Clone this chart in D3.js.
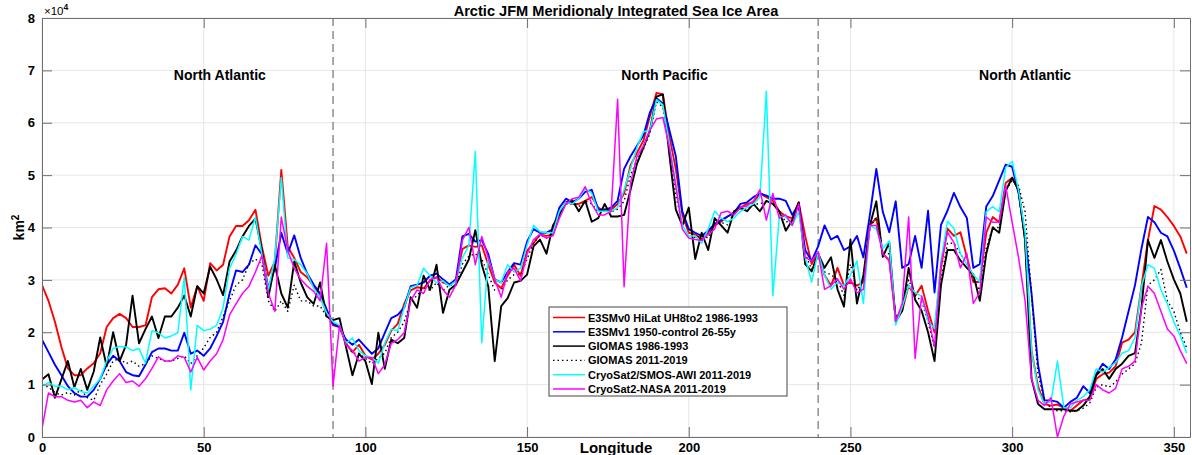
<!DOCTYPE html>
<html>
<head>
<meta charset="utf-8">
<script src="https://cdn.jsdelivr.net/npm/d3@7"></script>
<style>
  body { margin: 0; background: #fff; }
  text { font-family: "Liberation Sans", Arial, Helvetica, sans-serif; font-weight: bold; fill: #000; }
</style>
</head>
<body>
<div id="chart"></div>
<script>
// longitude grid (degrees), values in units of 1e4 km^2
const lon = d3.range(0, 356, 2);

const e3smv0 = [
  2.9, 2.6, 2.2, 1.72, 1.31, 1.18, 1.18, 1.31, 1.41, 1.6,
  2.1, 2.27, 2.35, 2.27, 2.1, 2.1, 2.13, 2.67, 2.82, 2.84,
  2.74, 2.91, 3.22, 2.47, 2.88, 2.6, 3.32, 3.18, 3.29, 3.83,
  4.03, 4.03, 4.14, 4.34, 3.63, 3.08, 3.35, 5.1, 3.63, 3.42,
  3.15, 3.05, 2.88, 2.67, 2.4, 2.13, 2.1, 1.79, 1.62, 1.76,
  1.55, 1.48, 1.59, 1.76, 2.03, 2.16, 2.54, 2.8, 2.86, 2.84,
  2.98, 3.05, 2.95, 2.91, 2.98, 3.59, 3.66, 3.63, 3.66, 3.29,
  2.95, 2.84, 3.08, 3.29, 3.08, 3.56, 3.7, 3.87, 3.84, 3.87,
  4.24, 4.48, 4.45, 4.45, 4.51, 4.58, 4.38, 4.31, 4.34, 4.45,
  4.65, 5.19, 5.43, 5.66, 6.13, 6.57, 6.54, 5.73, 5.12, 4.24,
  3.9, 3.87, 3.77, 3.9, 4.04, 4.11, 4.21, 4.28, 4.38, 4.45,
  4.48, 4.65, 4.58, 4.51, 4.31, 4.21, 4.18, 4.48, 3.84, 3.3,
  3.53, 3.09, 2.89, 3.23, 2.89, 2.96, 2.89, 2.96, 4.04, 4.18,
  3.5, 3.37, 2.28, 2.41, 2.89, 2.69, 2.89, 2.41, 2.0, 3.23,
  3.98, 3.84, 3.91, 3.44, 2.96, 2.96, 3.9, 4.2, 4.1, 4.85,
  4.95, 4.71, 3.76, 1.65, 0.97, 0.63, 0.6, 0.62, 0.56, 0.5,
  0.6, 0.7, 0.73, 1.11, 1.2, 1.23, 1.35, 1.8, 1.86, 2.0,
  2.88, 3.76, 4.41, 4.34, 4.2, 4.03, 3.83, 3.5
];

const e3smv1 = [
  1.86, 1.62, 1.38, 1.18, 0.97, 0.84, 0.77, 0.77, 0.9, 1.11,
  1.38, 1.55, 1.45, 1.24, 1.18, 1.16, 1.38, 1.62, 1.69, 1.69,
  1.65, 1.65, 1.99, 1.59, 1.65, 1.55, 1.69, 1.93, 2.2, 2.74,
  3.18, 3.15, 3.29, 3.66, 3.49, 2.84, 3.22, 3.9, 3.5, 3.85,
  3.42, 3.12, 2.91, 2.74, 2.44, 2.16, 2.1, 1.86, 1.76, 1.86,
  1.72, 1.59, 1.69, 1.99, 2.27, 2.33, 2.47, 2.88, 2.91, 2.95,
  3.08, 3.12, 3.01, 2.91, 3.01, 3.83, 3.88, 3.73, 3.76, 3.49,
  3.01, 2.95, 3.15, 3.32, 3.29, 3.73, 3.97, 3.9, 3.9, 3.97,
  4.38, 4.55, 4.48, 4.55, 4.68, 4.72, 4.34, 4.34, 4.38, 4.51,
  5.12, 5.36, 5.56, 5.76, 6.2, 6.47, 6.37, 5.86, 5.36, 4.31,
  3.97, 3.9, 3.84, 3.94, 4.07, 4.14, 4.21, 4.28, 4.45, 4.48,
  4.58, 4.65, 4.61, 4.55, 4.55, 4.51, 4.24, 4.45, 3.57, 3.36,
  3.64, 4.04, 3.77, 3.84, 3.57, 3.64, 3.84, 3.43, 4.24, 5.12,
  4.3, 3.91, 4.5, 3.23, 3.3, 3.84, 3.23, 4.32, 2.76, 4.05,
  4.32, 4.66, 4.39, 4.18, 3.23, 3.3, 4.4, 4.6, 4.9, 5.2,
  5.16, 4.65, 3.83, 2.74, 1.38, 0.7, 0.7, 0.67, 0.56, 0.67,
  0.75, 0.97, 0.84, 1.2, 1.4, 1.3, 1.48, 1.9, 2.4, 2.9,
  3.6, 4.2, 4.1, 3.9, 3.83, 3.56, 3.22, 2.85
];

const giomas8693 = [
  1.1, 1.2, 0.75, 1.1, 1.45, 0.95, 1.3, 0.9, 1.25, 1.9,
  1.35, 2.0, 1.45, 1.76, 2.7, 1.79, 2.06, 2.3, 1.89, 2.3,
  2.3, 2.47, 2.7, 2.3, 2.88, 2.74, 3.25, 3.01, 2.71, 3.35,
  3.56, 3.83, 4.03, 4.17, 3.56, 2.67, 3.29, 2.74, 2.47, 3.35,
  2.95, 2.67, 2.54, 2.95, 2.3, 2.23, 2.27, 1.72, 1.18, 1.59,
  1.45, 1.01, 1.99, 1.3, 1.86, 1.79, 1.89, 2.67, 2.47, 3.08,
  2.81, 3.29, 2.37, 2.81, 2.91, 3.15, 3.39, 3.95, 3.29, 2.88,
  1.45, 2.5, 2.65, 2.95, 2.98, 3.1, 3.64, 3.77, 3.5, 4.04,
  4.24, 4.48, 4.52, 4.31, 4.51, 4.11, 4.18, 4.45, 4.21, 4.21,
  4.24, 4.72, 5.22, 5.53, 5.86, 6.5, 6.54, 5.39, 4.34, 4.04,
  4.38, 3.4, 3.9, 3.57, 4.18, 4.04, 3.9, 4.31, 4.38, 4.31,
  4.45, 4.31, 4.51, 4.45, 4.31, 3.94, 4.14, 4.48, 3.3, 3.16,
  3.5, 3.23, 3.43, 2.82, 2.49, 3.77, 2.55, 3.09, 4.04, 4.5,
  3.44, 3.71, 2.2, 2.41, 3.23, 2.62, 2.41, 2.0, 1.45, 2.9,
  3.57, 3.57, 3.37, 3.23, 3.1, 2.6, 3.5, 4.0, 3.9, 4.7,
  4.95, 4.71, 3.76, 1.11, 0.63, 0.53, 0.53, 0.53, 0.53, 0.5,
  0.5, 0.6, 0.77, 1.18, 1.3, 1.11, 1.3, 1.4, 1.55, 1.6,
  2.47, 3.76, 3.42, 3.76, 3.35, 3.01, 2.74, 2.2
];

const giomas1119 = [
  1.0, 0.95, 0.85, 0.8, 0.85, 0.8, 0.9, 0.75, 0.7, 1.0,
  1.2, 1.45, 1.5, 1.4, 1.45, 1.35, 1.4, 1.55, 1.5, 1.45,
  1.45, 1.5, 1.55, 1.4, 1.55, 1.7, 1.9, 2.0, 2.3, 2.6,
  2.9, 3.0, 3.3, 3.4, 3.3, 2.6, 2.4, 2.6, 2.4, 2.9,
  2.6, 2.6, 2.5, 2.5, 2.3, 2.2, 2.1, 1.8, 1.6, 1.6,
  1.5, 1.4, 1.5, 1.6, 1.9, 2.0, 2.2, 2.6, 2.7, 2.85,
  2.8, 2.95, 2.8, 2.9, 2.9, 3.3, 3.45, 3.5, 3.4, 3.1,
  2.8, 2.8, 3.0, 3.1, 3.1, 3.4, 3.7, 3.85, 3.8, 3.9,
  4.2, 4.45, 4.45, 4.4, 4.5, 4.45, 4.3, 4.35, 4.3, 4.35,
  4.5, 5.0, 5.3, 5.5, 5.8, 6.4, 6.3, 5.5, 4.6, 4.1,
  4.0, 3.8, 3.85, 3.8, 4.1, 4.1, 4.05, 4.3, 4.35, 4.35,
  4.45, 4.45, 4.5, 4.45, 4.3, 4.1, 4.15, 4.4, 3.5, 3.2,
  3.5, 3.15, 3.1, 3.0, 2.7, 3.3, 2.8, 3.0, 4.0, 4.2,
  3.5, 3.5, 2.3, 2.4, 3.0, 2.7, 2.6, 2.2, 1.7, 3.0,
  3.7, 3.7, 3.5, 3.3, 3.0, 2.8, 3.6, 4.0, 4.0, 4.7,
  4.9, 4.8, 4.3, 2.7, 1.2, 0.7, 0.55, 0.5, 0.5, 0.48,
  0.5, 0.55, 0.65, 0.95, 1.0, 0.95, 1.05, 1.2, 1.3, 1.4,
  1.8, 2.9, 3.0, 3.2, 2.6, 2.4, 2.0, 1.7
];

const cryoAwi = [
  0.97, 1.04, 0.97, 0.97, 0.9, 0.94, 0.87, 0.84, 0.97, 1.11,
  1.45, 1.69, 1.73, 1.72, 1.65, 1.69, 1.41, 2.03, 1.99, 1.89,
  1.93, 1.99, 3.05, 0.9, 2.13, 2.03, 2.06, 2.13, 2.47, 3.22,
  3.49, 3.83, 3.76, 4.2, 3.49, 2.81, 3.42, 4.95, 3.42, 3.39,
  3.29, 3.12, 2.84, 2.67, 2.37, 2.2, 2.13, 1.79, 1.89, 1.65,
  1.55, 1.52, 1.41, 1.79, 2.06, 2.03, 2.47, 2.85, 2.9, 3.22,
  3.08, 2.95, 2.98, 2.88, 2.98, 3.42, 3.66, 5.45, 1.8, 3.42,
  3.01, 2.95, 3.29, 3.15, 3.22, 3.66, 4.04, 3.92, 3.9, 3.9,
  4.31, 4.48, 4.45, 4.55, 4.75, 4.65, 4.31, 4.31, 4.31, 4.38,
  4.72, 5.12, 5.53, 5.83, 5.86, 6.44, 6.34, 5.59, 4.85, 4.04,
  3.84, 3.84, 3.7, 3.97, 4.31, 4.18, 4.11, 4.18, 4.31, 4.38,
  4.45, 4.58, 6.6, 2.7, 4.21, 4.21, 4.04, 4.3, 3.43, 2.96,
  3.53, 3.09, 2.82, 2.96, 2.89, 3.09, 3.36, 2.55, 4.04, 3.97,
  3.6, 3.74, 2.14, 2.48, 2.89, 2.76, 2.69, 2.21, 2.07, 3.37,
  4.12, 3.98, 3.5, 3.3, 3.1, 2.96, 4.3, 4.4, 4.3, 5.15,
  5.26, 4.71, 3.9, 1.65, 0.9, 0.63, 0.67, 1.45, 0.56, 0.56,
  0.7, 0.77, 0.9, 1.3, 1.24, 1.33, 1.42, 1.6, 1.65, 1.9,
  2.88, 3.29, 3.22, 2.81, 2.54, 2.2, 1.93, 1.6
];

const cryoNasa = [
  0.16, 0.84, 0.77, 0.77, 0.7, 0.67, 0.7, 0.56, 0.67, 0.6,
  0.9, 1.07, 1.21, 1.04, 1.07, 0.97, 1.11, 1.31, 1.53, 1.45,
  1.45, 1.55, 1.52, 1.24, 1.52, 1.28, 1.45, 1.59, 1.86, 2.33,
  2.54, 2.74, 2.88, 3.15, 3.46, 2.74, 2.4, 4.2, 3.56, 3.22,
  3.01, 2.88, 2.78, 2.6, 3.7, 0.97, 2.13, 1.76, 1.65, 1.45,
  1.52, 1.52, 1.21, 1.38, 1.79, 1.86, 1.99, 2.6, 2.81, 2.74,
  3.01, 3.05, 2.81, 2.67, 2.91, 3.76, 4.0, 3.29, 3.83, 3.42,
  3.01, 2.67, 3.15, 3.22, 2.98, 3.49, 3.77, 3.87, 3.8, 3.84,
  4.18, 4.45, 4.55, 4.58, 4.78, 4.45, 4.24, 4.24, 4.31, 6.45,
  2.87, 4.85, 5.36, 5.56, 5.86, 6.07, 6.1, 5.53, 4.78, 3.97,
  3.8, 3.77, 3.75, 3.87, 3.97, 4.28, 4.31, 4.24, 4.38, 4.41,
  4.51, 4.72, 4.14, 4.65, 4.18, 4.24, 4.04, 4.45, 3.43, 3.36,
  3.53, 2.82, 2.89, 3.02, 2.82, 3.02, 2.75, 2.82, 4.04, 4.04,
  3.5, 3.37, 2.21, 2.55, 4.2, 1.5, 2.69, 2.3, 1.73, 3.3,
  3.91, 3.71, 3.23, 3.5, 2.55, 2.76, 4.2, 4.1, 4.1, 4.8,
  4.1, 3.42, 2.6, 1.11, 0.7, 0.6, 0.75, 0.0, 0.4, 0.63,
  0.67, 0.7, 0.7, 1.0, 0.9, 0.84, 0.93, 1.3, 1.35, 1.45,
  2.47, 2.88, 2.74, 2.4, 2.06, 1.93, 1.65, 1.4
];

const seriesLabels = [
  "E3SMv0 HiLat UH8to2 1986-1993",
  "E3SMv1 1950-control 26-55y",
  "GIOMAS 1986-1993",
  "GIOMAS 2011-2019",
  "CryoSat2/SMOS-AWI 2011-2019",
  "CryoSat2-NASA 2011-2019"
];
const xTicks = [0, 50, 100, 150, 200, 250, 300, 350];
const yTicks = [0, 1, 2, 3, 4, 5, 6, 7, 8];
const regionNames = ["North Atlantic", "North Pacific", "North Atlantic"];
const regionLon = [55, 192.5, 304];
const dividers = [90, 240];

const W = 1192, H = 455;
const L = 42, R = 1190, T = 18, B = 437;

const series = [
  { values: e3smv0, color: "#ff0000", width: 1.9, dash: null },
  { values: e3smv1, color: "#0000ff", width: 1.9, dash: null },
  { values: giomas8693, color: "#000000", width: 1.9, dash: null },
  { values: giomas1119, color: "#000000", width: 1.4, dash: "1.5,3" },
  { values: cryoAwi, color: "#00ffff", width: 1.5, dash: null },
  { values: cryoNasa, color: "#ff00ff", width: 1.5, dash: null }
];

const svg = d3.select("#chart").append("svg")
  .attr("width", W).attr("height", H);

const x = d3.scaleLinear().domain([0, 355]).range([L, R]);
const y = d3.scaleLinear().domain([0, 8]).range([B, T]);

// grid
svg.append("g").selectAll("line").data(xTicks).join("line")
  .attr("x1", d => x(d)).attr("x2", d => x(d)).attr("y1", T).attr("y2", B)
  .attr("stroke", "#e6e6e6").attr("stroke-width", 1);
svg.append("g").selectAll("line").data(yTicks).join("line")
  .attr("x1", L).attr("x2", R).attr("y1", d => y(d)).attr("y2", d => y(d))
  .attr("stroke", "#e6e6e6").attr("stroke-width", 1);

// region dividers
svg.append("g").selectAll("line").data(dividers).join("line")
  .attr("x1", d => x(d)).attr("x2", d => x(d)).attr("y1", T).attr("y2", B)
  .attr("stroke", "#555").attr("stroke-width", 1).attr("stroke-dasharray", "8,5");

// region labels
svg.append("g").selectAll("text").data(regionNames).join("text")
  .attr("x", (d, i) => x(regionLon[i])).attr("y", 80)
  .attr("text-anchor", "middle").attr("font-size", 14)
  .text(d => d);

// lines
svg.append("clipPath").attr("id", "clip").append("rect")
  .attr("x", L).attr("y", T).attr("width", R - L).attr("height", B - T + 1);

const line = d3.line().x((d, i) => x(lon[i])).y(d => y(d));
const lineG = svg.append("g").attr("clip-path", "url(#clip)");
series.forEach(s => {
  lineG.append("path")
    .attr("d", line(s.values))
    .attr("fill", "none")
    .attr("stroke", s.color)
    .attr("stroke-width", s.width)
    .attr("stroke-linejoin", "round")
    .attr("stroke-dasharray", s.dash);
});

// axes
const axisColor = "#6e6e6e";
const xAxis = svg.append("g").attr("transform", `translate(0,${B})`)
  .call(d3.axisBottom(x).tickValues(xTicks).tickSizeInner(-10).tickSizeOuter(0).tickPadding(6));
const yAxis = svg.append("g").attr("transform", `translate(${L},0)`)
  .call(d3.axisLeft(y).tickValues(yTicks).tickSizeInner(-10).tickSizeOuter(0).tickPadding(7));
[xAxis, yAxis].forEach(g => {
  g.select(".domain").attr("stroke", axisColor);
  g.selectAll(".tick line").attr("stroke", axisColor);
  g.selectAll(".tick text").attr("font-size", 13).attr("fill", "#000")
    .style("font-family", "'Liberation Sans', Arial, sans-serif").style("font-weight", "bold");
});

// box top/right with mirrored ticks
svg.append("g").attr("transform", `translate(0,${T})`)
  .call(d3.axisTop(x).tickValues(xTicks).tickSizeInner(-10).tickSizeOuter(0).tickFormat(""))
  .call(g => g.select(".domain").attr("stroke", axisColor))
  .call(g => g.selectAll(".tick line").attr("stroke", axisColor));
svg.append("g").attr("transform", `translate(${R},0)`)
  .call(d3.axisRight(y).tickValues(yTicks).tickSizeInner(-10).tickSizeOuter(0).tickFormat(""))
  .call(g => g.select(".domain").attr("stroke", axisColor))
  .call(g => g.selectAll(".tick line").attr("stroke", axisColor));

// exponent label
const expText = svg.append("text").attr("x", 44).attr("y", 15).attr("font-size", 11.5)
  .style("font-weight", "normal");
expText.append("tspan").text("\u00d710");
expText.append("tspan").attr("dy", -5).attr("font-size", 8.5).style("font-weight", "bold").text("4");

// title
svg.append("text").attr("x", (L + R) / 2).attr("y", 16)
  .attr("text-anchor", "middle").attr("font-size", 14.6)
  .text("Arctic JFM Meridionaly Integrated Sea Ice Area");

// axis labels
svg.append("text").attr("x", (L + R) / 2).attr("y", 453)
  .attr("text-anchor", "middle").attr("font-size", 15)
  .text("Longitude");
const yl = svg.append("text")
  .attr("transform", `translate(24,${(T + B) / 2}) rotate(-90)`)
  .attr("text-anchor", "middle").attr("font-size", 14);
yl.append("tspan").text("km");
yl.append("tspan").attr("dy", -5).attr("font-size", 10).text("2");

// legend
const lg = svg.append("g").attr("transform", "translate(549,307)");
lg.append("rect").attr("width", 238).attr("height", 89)
  .attr("fill", "#fff").attr("stroke", "#444").attr("stroke-width", 1);
seriesLabels.forEach((label, i) => {
  const s = series[i];
  const yy = 10.5 + i * 14.3;
  lg.append("line").attr("x1", 4).attr("x2", 36).attr("y1", yy).attr("y2", yy)
    .attr("stroke", s.color).attr("stroke-width", s.dash ? 1.2 : 1.5)
    .attr("stroke-dasharray", s.dash);
  lg.append("text").attr("x", 39).attr("y", yy + 4).attr("font-size", 11)
    .text(label);
});
</script>
</body>
</html>
